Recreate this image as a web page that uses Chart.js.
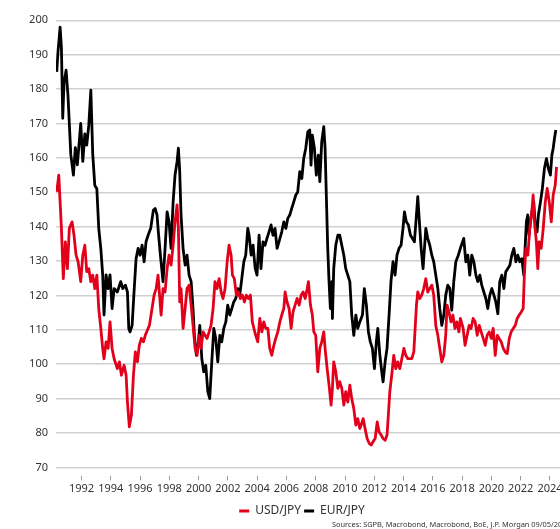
<!DOCTYPE html>
<html><head><meta charset="utf-8">
<script src="https://cdn.jsdelivr.net/npm/chart.js@4/dist/chart.umd.min.js"></script>
<style>html,body{margin:0;padding:0;overflow:hidden;background:#fff}</style>
</head><body>
<canvas id="c" width="604" height="535"></canvas>
<script>
// ---- data ----
const seriesNames = ['USD/JPY', 'EUR/JPY'];
const xTickYears = [1992,1994,1996,1998,2000,2002,2004,2006,2008,2010,2012,2014,2016,2018,2020,2022,2024];
const yTickValues = [70,80,90,100,110,120,130,140,150,160,170,180,190,200];
const sourceNote = 'Sources: SGPB, Macrobond, Macrobond, BoE, J.P. Morgan 09/05/2024';

// [decimal year, value]
const usdJpy = [
[1990.31,150.1],[1990.45,155],[1990.54,147.2],[1990.63,139.5],[1990.76,124.9],[1990.90,135.6],[1991.04,127.8],[1991.17,139.5],
[1991.36,141.4],[1991.49,137.5],[1991.63,131.7],[1991.77,129.8],[1991.95,124],[1992.09,131.7],[1992.23,134.6],[1992.36,126.9],
[1992.50,127.8],[1992.64,124],[1992.77,125.9],[1992.91,122],[1993.05,125.9],[1993.18,116.2],[1993.32,110.4],[1993.45,104.6],
[1993.54,101.6],[1993.68,106.5],[1993.82,104.6],[1993.95,112.3],[1994.09,104.6],[1994.23,101.6],[1994.45,98.7],[1994.59,100.7],
[1994.73,96.8],[1994.91,99.7],[1995.05,96.8],[1995.14,89],[1995.27,81.8],[1995.41,85.2],[1995.55,96.8],[1995.68,103.6],
[1995.82,100.7],[1995.95,105.5],[1996.09,107.5],[1996.23,106.5],[1996.36,108.4],[1996.50,109.9],[1996.64,111.3],[1996.82,116.2],
[1996.96,120.1],[1997.10,122],[1997.23,125.9],[1997.44,114.3],[1997.57,122],[1997.71,121],[1997.85,127.8],[1997.98,131.7],
[1998.12,128.8],[1998.26,134.6],[1998.39,141.4],[1998.53,146.3],[1998.62,139.5],[1998.71,118.1],[1998.80,122],[1998.94,110.4],
[1999.08,116.2],[1999.21,122],[1999.35,123],[1999.49,117.2],[1999.62,111.3],[1999.76,104.6],[1999.90,102.6],[2000.03,108.4],
[2000.17,104.6],[2000.31,109.4],[2000.44,108.4],[2000.58,107.5],[2000.72,109.4],[2000.85,111.3],[2000.99,116.2],[2001.12,124],
[2001.26,122],[2001.40,124.9],[2001.54,121],[2001.67,119.1],[2001.81,122],[2001.95,129.8],[2002.08,134.6],[2002.22,131.7],
[2002.31,125.9],[2002.44,124.9],[2002.58,120.1],[2002.72,121],[2002.85,119.1],[2002.99,120.1],[2003.13,118.1],[2003.26,120.1],
[2003.40,119.1],[2003.54,120.1],[2003.67,112.3],[2003.86,109],[2004.04,106.5],[2004.18,113.3],[2004.32,109.4],[2004.45,112.3],
[2004.59,110.4],[2004.73,110.4],[2004.86,104.6],[2005.00,102.6],[2005.14,105.5],[2005.27,107.5],[2005.41,109.4],[2005.55,112.3],
[2005.68,114.3],[2005.82,116.2],[2005.91,121],[2006.04,118.1],[2006.18,116.2],[2006.32,110.4],[2006.45,115.2],[2006.59,117.2],
[2006.73,119.1],[2006.87,117.2],[2007.01,120.1],[2007.14,121],[2007.28,119.1],[2007.42,122],[2007.50,124],[2007.64,117.2],
[2007.77,114.3],[2007.87,109.4],[2008.00,108.4],[2008.14,97.8],[2008.28,104.6],[2008.41,106.5],[2008.55,109.4],[2008.64,104.6],
[2008.78,98.7],[2008.91,93.9],[2009.05,88.1],[2009.14,93],[2009.23,100.7],[2009.37,97.8],[2009.51,93],[2009.64,94.9],
[2009.78,93],[2009.92,88.1],[2010.05,92],[2010.19,89],[2010.33,93.9],[2010.46,90],[2010.60,87.1],[2010.74,82.3],
[2010.87,84.2],[2011.01,81.3],[2011.10,82.3],[2011.24,84.2],[2011.37,81.3],[2011.51,78.4],[2011.65,77],[2011.79,76.5],
[2011.92,77.5],[2012.06,78.4],[2012.20,83.2],[2012.33,80.3],[2012.47,79.4],[2012.60,78.4],[2012.74,77.9],[2012.87,79.4],
[2012.96,85.2],[2013.06,92],[2013.19,96.8],[2013.33,102.6],[2013.47,98.7],[2013.60,100.7],[2013.74,98.7],[2013.88,101.6],
[2014.02,104.6],[2014.15,102.6],[2014.29,101.6],[2014.43,101.6],[2014.56,101.6],[2014.70,103.6],[2014.79,110.4],[2014.88,117.2],
[2014.97,121],[2015.11,119.1],[2015.24,120.1],[2015.38,122],[2015.52,124.9],[2015.65,121],[2015.79,122],[2015.93,123],
[2016.06,120.1],[2016.20,111.3],[2016.34,108.4],[2016.47,104.6],[2016.61,100.7],[2016.75,102.6],[2016.88,108.4],[2016.97,117.2],
[2017.10,115.2],[2017.24,112.3],[2017.37,114.3],[2017.51,110.4],[2017.64,112.3],[2017.78,109.4],[2017.88,113.3],[2018.07,110.4],
[2018.20,105.5],[2018.34,108.4],[2018.48,111.3],[2018.61,110.4],[2018.75,113.3],[2018.89,112.3],[2019.03,108.4],[2019.17,111.3],
[2019.30,109.4],[2019.44,107.5],[2019.58,105.5],[2019.71,108.4],[2019.85,109.4],[2019.99,107.5],[2020.12,110.4],[2020.26,102.6],
[2020.40,108.4],[2020.53,107.5],[2020.67,106.5],[2020.81,104.6],[2020.94,103.6],[2021.08,103.1],[2021.22,107.5],[2021.35,109.4],
[2021.49,110.4],[2021.63,111.3],[2021.76,113.3],[2021.90,114.3],[2022.04,115.2],[2022.17,116.2],[2022.25,125.9],[2022.35,133.7],
[2022.49,131.7],[2022.62,139.5],[2022.76,144.3],[2022.85,149.2],[2022.94,141.4],[2023.07,135.6],[2023.17,127.8],[2023.26,135.6],
[2023.40,133.7],[2023.54,139.5],[2023.68,147.2],[2023.81,151.1],[2023.95,147.2],[2024.09,141.4],[2024.22,149.2],[2024.36,152.1],
[2024.45,157.4]
];

const eurJpy = [
[1990.31,185],[1990.40,191],[1990.54,198],[1990.63,192],[1990.72,171.5],[1990.81,182],[1990.95,185.5],[1991.08,178],
[1991.27,161],[1991.45,155],[1991.58,163],[1991.72,158],[1991.95,170],[1992.09,159],[1992.23,167],[1992.36,163.7],
[1992.50,169.5],[1992.64,179.7],[1992.77,161],[1992.91,152],[1993.05,151],[1993.18,139.5],[1993.32,133.7],[1993.45,126],
[1993.54,114.3],[1993.68,126],[1993.82,122],[1993.95,126],[1994.09,116.2],[1994.23,122],[1994.45,121],[1994.68,124],
[1994.82,122],[1995.00,123],[1995.14,121],[1995.23,110.4],[1995.32,109.4],[1995.46,111.3],[1995.59,121],[1995.73,130.7],
[1995.87,133.7],[1996.00,131.7],[1996.14,134.6],[1996.28,129.8],[1996.41,135.6],[1996.55,137.5],[1996.73,139.5],[1996.91,144.8],
[1997.03,145.3],[1997.16,143.4],[1997.25,138.5],[1997.39,131.7],[1997.57,124],[1997.71,133.7],[1997.85,144.3],[1997.98,141.4],
[1998.12,133.7],[1998.26,147.2],[1998.39,155],[1998.53,158.9],[1998.62,162.8],[1998.71,156],[1998.80,143.4],[1998.94,133.7],
[1999.08,128.8],[1999.21,131.7],[1999.35,125.9],[1999.49,124],[1999.62,116.2],[1999.71,108.4],[1999.85,102.6],[1999.99,106.5],
[2000.08,111.3],[2000.22,101.6],[2000.35,97.8],[2000.49,99.7],[2000.63,92],[2000.76,90],[2000.90,100.7],[2001.04,110.4],
[2001.17,107.5],[2001.31,100.7],[2001.45,108.4],[2001.58,106.5],[2001.72,110.4],[2001.86,112.3],[2001.99,117.2],[2002.13,114.3],
[2002.27,116.2],[2002.40,118.1],[2002.54,119.1],[2002.68,122],[2002.81,120.1],[2002.95,124.9],[2003.09,129.8],[2003.22,131.7],
[2003.36,139.5],[2003.45,137.5],[2003.59,131.7],[2003.72,134.6],[2003.86,128],[2003.99,125.9],[2004.13,137.5],[2004.26,127.8],
[2004.40,135.6],[2004.54,134.6],[2004.67,136.6],[2004.81,138.5],[2004.95,140.5],[2005.08,137.5],[2005.22,139.5],[2005.36,133.7],
[2005.49,135.6],[2005.68,138.5],[2005.82,141.4],[2005.96,139.5],[2006.09,142.4],[2006.23,143.4],[2006.36,145.3],[2006.50,147.2],
[2006.64,149.2],[2006.77,150.1],[2006.91,156],[2007.05,154],[2007.18,159.8],[2007.32,162.8],[2007.46,167.6],[2007.59,168.1],
[2007.68,157.9],[2007.77,166.6],[2007.91,162.8],[2008.04,155],[2008.18,160.8],[2008.28,153.1],[2008.41,164.7],[2008.55,169.1],
[2008.64,162.8],[2008.73,148.2],[2008.82,133.7],[2008.91,124],[2009.00,116.2],[2009.10,124],[2009.14,113.3],[2009.23,127.8],
[2009.37,134.6],[2009.51,137.5],[2009.64,137.5],[2009.78,134.6],[2009.92,131.7],[2010.05,127.8],[2010.19,125.9],[2010.33,124],
[2010.46,114.3],[2010.60,108.4],[2010.74,114.3],[2010.87,110.4],[2011.01,112.3],[2011.19,114.3],[2011.32,122],[2011.46,117.2],
[2011.60,109.4],[2011.73,106.5],[2011.87,104.6],[2012.01,98.7],[2012.14,106.5],[2012.24,110.4],[2012.38,102.6],[2012.51,97.8],
[2012.60,94.9],[2012.74,100.7],[2012.87,104.6],[2013.01,114.3],[2013.14,124],[2013.28,129.8],[2013.42,125.9],[2013.55,131.7],
[2013.69,133.7],[2013.83,134.6],[2013.96,139.5],[2014.06,144.3],[2014.19,141.4],[2014.33,140.5],[2014.47,137.5],[2014.60,136.6],
[2014.74,135.6],[2014.88,143.4],[2014.97,148.7],[2015.11,139.5],[2015.20,133.7],[2015.33,127.8],[2015.52,139.5],[2015.65,136.6],
[2015.79,134.6],[2015.93,131.7],[2016.06,129.8],[2016.20,125.9],[2016.34,122],[2016.47,116.2],[2016.61,111.3],[2016.75,114.3],
[2016.88,120.1],[2017.02,123],[2017.16,122],[2017.29,115.7],[2017.43,124],[2017.57,129.8],[2017.74,131.7],[2017.88,133.7],
[2018.11,136.6],[2018.25,129.8],[2018.39,131.7],[2018.52,125.9],[2018.66,131.7],[2018.80,129.8],[2018.94,125.9],[2019.07,124],
[2019.21,125.9],[2019.34,123],[2019.48,121],[2019.62,119.1],[2019.75,116.2],[2019.89,120.1],[2020.03,122],[2020.17,120.1],
[2020.30,118.1],[2020.44,114.7],[2020.57,124],[2020.71,125.9],[2020.85,122],[2020.98,126.9],[2021.12,127.8],[2021.26,128.8],
[2021.39,131.7],[2021.53,133.7],[2021.67,129.8],[2021.80,131.7],[2021.94,129.8],[2022.08,130.7],[2022.21,125.9],[2022.30,133.7],
[2022.39,141.4],[2022.48,143.4],[2022.57,137.5],[2022.66,141.4],[2022.80,145.3],[2022.89,147.2],[2022.98,141.4],[2023.12,138.5],
[2023.21,143.4],[2023.35,147.2],[2023.48,151.1],[2023.62,156.9],[2023.76,159.8],[2023.89,156.9],[2024.03,155],[2024.13,160.8],
[2024.22,162.8],[2024.31,165.7],[2024.40,168.1]
];

// ---- chart ----
const FONT = '"Noto Sans", "Open Sans", sans-serif';
const toXY = arr => arr.map(p => ({x: p[0], y: p[1]}));

const sourcePlugin = {
  id: 'sourceNote',
  afterDraw(chart) {
    const ctx = chart.ctx;
    ctx.save();
    ctx.font = '7.4px ' + FONT;
    ctx.fillStyle = '#333';
    ctx.textAlign = 'left';
    ctx.textBaseline = 'middle';
    ctx.fillText(sourceNote, chart.width - 272, chart.height - 10);
    ctx.restore();
  }
};

new Chart(document.getElementById('c'), {
  type: 'line',
  data: {
    datasets: [
      {label: seriesNames[0], data: toXY(usdJpy), borderColor: '#e2001a', backgroundColor: '#e2001a', borderWidth: 2.8},
      {label: seriesNames[1], data: toXY(eurJpy), borderColor: '#000000', backgroundColor: '#000000', borderWidth: 2.8}
    ]
  },
  options: {
    responsive: false,
    animation: false,
    devicePixelRatio: 1,
    elements: {point: {radius: 0}, line: {tension: 0, borderJoinStyle: 'round', fill: false}},
    layout: {padding: {top: 20.3, left: 0, right: 0, bottom: 8}},
    scales: {
      x: {
        type: 'linear',
        min: 1990.26,
        max: 2027.69,
        afterBuildTicks: s => { s.ticks = xTickYears.map(v => ({value: v})); },
        afterFit: s => { s.height = 34.6; },
        border: {display: false},
        grid: {display: true, drawOnChartArea: false, drawTicks: true, tickLength: 13,
               tickColor: '#9a9a9a', tickWidth: 1, tickBorderDash: [0, 9, 4]},
        ticks: {autoSkip: false, maxRotation: 0, padding: 2, color: '#333',
                font: {family: FONT, size: 11}, callback: v => String(v)}
      },
      y: {
        min: 70, max: 200,
        afterBuildTicks: s => { s.ticks = yTickValues.map(v => ({value: v})); },
        afterFit: s => { s.width = 56; },
        border: {display: false},
        grid: {color: '#d0d0d0', lineWidth: 1.5, drawTicks: false},
        ticks: {padding: 8, color: '#333', font: {family: FONT, size: 11}, callback: v => String(v)}
      }
    },
    plugins: {
      legend: {
        position: 'bottom',
        labels: {
          boxWidth: 10, boxHeight: 3, padding: 3, color: '#333',
          font: {family: FONT, size: 12},
          generateLabels: chart => Chart.defaults.plugins.legend.labels.generateLabels(chart)
            .map(l => Object.assign(l, {lineWidth: 0}))
        }
      },
      tooltip: {enabled: false}
    }
  },
  plugins: [sourcePlugin]
});
</script>
</body></html>
